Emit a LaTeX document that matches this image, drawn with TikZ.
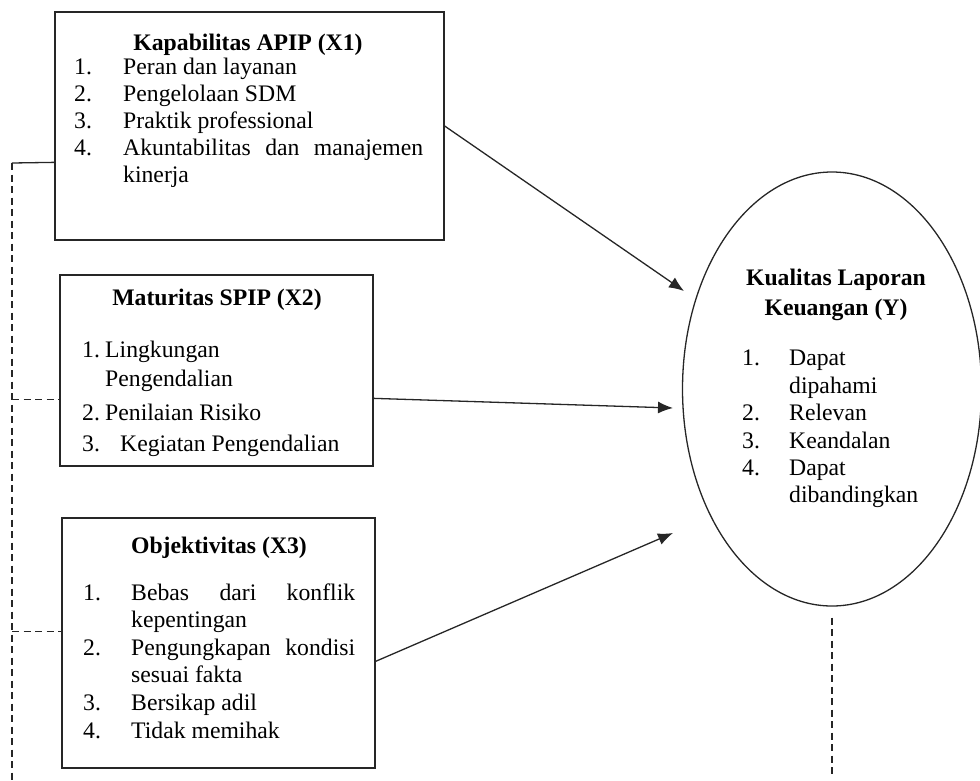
\documentclass[tikz,border=0pt]{standalone}
\usepackage{fontspec}
\setmainfont{Liberation Serif}
\usetikzlibrary{shapes.geometric,arrows.meta}
\begin{document}
\begin{tikzpicture}[x=1pt,y=-1pt,
  box/.style={draw=black!85, line width=1.3pt, rectangle, inner sep=0pt},
  txt/.style={anchor=base west, inner sep=0pt, font=\fontsize{23.7}{27}\selectfont},
  ttl/.style={anchor=base, inner sep=0pt, font=\fontsize{23.7}{27}\selectfont\bfseries},
  conn/.style={line width=1.3pt, draw=black!85},
  dsh/.style={line width=1.3pt, draw=black!85, dash pattern=on 7pt off 4.5pt},
  arr/.style={line width=1.3pt, draw=black!85, -{Latex[length=15pt,width=12pt]}}]
\useasboundingbox (0,0) rectangle (980,780);

% boxes
\node[box, minimum width=389pt, minimum height=228pt] (X1) at (249.5,126) {};
\node[box, minimum width=313pt, minimum height=191pt] (X2) at (216.5,370.5) {};
\node[box, minimum width=313pt, minimum height=250pt] (X3) at (218.5,643) {};
\node[draw=black!85, line width=1.3pt, ellipse, inner sep=0pt, minimum width=299pt, minimum height=434pt] (Y) at (832,389) {};

% X1 text
\node[ttl] (t1) at (248,50) {Kapabilitas APIP (X1)};
\node[txt] (a1n) at (74,74) {1.};  \node[txt] (a1) at (123,74) {Peran dan layanan};
\node[txt] (a2n) at (74,101) {2.}; \node[txt] (a2) at (123,101) {Pengelolaan SDM};
\node[txt] (a3n) at (74,128) {3.}; \node[txt] (a3) at (123,128) {Praktik professional};
\node[txt] (a4n) at (74,155) {4.}; \node[txt] (a4) at (123,155) {\makebox[300pt][s]{Akuntabilitas dan manajemen}};
\node[txt] (a4b) at (123,182) {kinerja};

% X2 text
\node[ttl] (t2) at (217,305) {Maturitas SPIP (X2)};
\node[txt] (b1n) at (82,357) {1.}; \node[txt] (b1) at (105,357) {Lingkungan};
\node[txt] (b1b) at (105,386) {Pengendalian};
\node[txt] (b2n) at (82,420) {2.}; \node[txt] (b2) at (105,420) {Penilaian Risiko};
\node[txt] (b3n) at (82,451) {3.}; \node[txt] (b3) at (120,451) {Kegiatan Pengendalian};

% X3 text
\node[ttl] (t3) at (219,553) {Objektivitas (X3)};
\node[txt] (c1n) at (83,600) {1.}; \node[txt] (c1) at (131,600) {\makebox[224pt][s]{Bebas dari konflik}};
\node[txt] (c1b) at (131,627.6) {kepentingan};
\node[txt] (c2n) at (83,655.2) {2.}; \node[txt] (c2) at (131,655.2) {\makebox[224pt][s]{Pengungkapan kondisi}};
\node[txt] (c2b) at (131,682.8) {sesuai fakta};
\node[txt] (c3n) at (83,710.4) {3.}; \node[txt] (c3) at (131,710.4) {Bersikap adil};
\node[txt] (c4n) at (83,738) {4.}; \node[txt] (c4) at (131,738) {Tidak memihak};

% Y text
\node[ttl] (ty1) at (836,285) {Kualitas Laporan};
\node[ttl] (ty2) at (836,315) {Keuangan (Y)};
\node[txt] (d1n) at (742,365) {1.}; \node[txt] (d1) at (789,365) {Dapat};
\node[txt] (d1b) at (789,393) {dipahami};
\node[txt] (d2n) at (742,420) {2.}; \node[txt] (d2) at (789,420) {Relevan};
\node[txt] (d3n) at (742,448) {3.}; \node[txt] (d3) at (789,448) {Keandalan};
\node[txt] (d4n) at (742,475) {4.}; \node[txt] (d4) at (789,475) {Dapat};
\node[txt] (d4b) at (789,502) {dibandingkan};

% arrow targets
\coordinate (e1) at (684,291);
\coordinate (e2) at (673,408);
\coordinate (e3) at (673,533);

\draw[arr] (X1.east) -- (e1);
\draw[arr] ([yshift=-124pt]X2.north east) -- (e2);
\draw[arr] ([yshift=-144pt]X3.north east) -- (e3);

% left bracket connectors
\coordinate (l1) at ([yshift=-151pt]X1.north west);
\coordinate (l2) at ([yshift=-125pt]X2.north west);
\coordinate (l3) at ([yshift=-114pt]X3.north west);
\coordinate (ltop) at (12,163);
\coordinate (lbot) at (12,780);
\draw[conn] (ltop) -- (l1);
\draw[dsh] (ltop) -- (lbot);
\draw[dsh] (l2 -| ltop) -- (l2);
\draw[dsh] (l3 -| ltop) -- (l3);

% dashed line below Y
\coordinate (yend) at (832,774);
\draw[dsh] ([yshift=-11pt]Y.south) -- (yend);
\end{tikzpicture}
\end{document}
